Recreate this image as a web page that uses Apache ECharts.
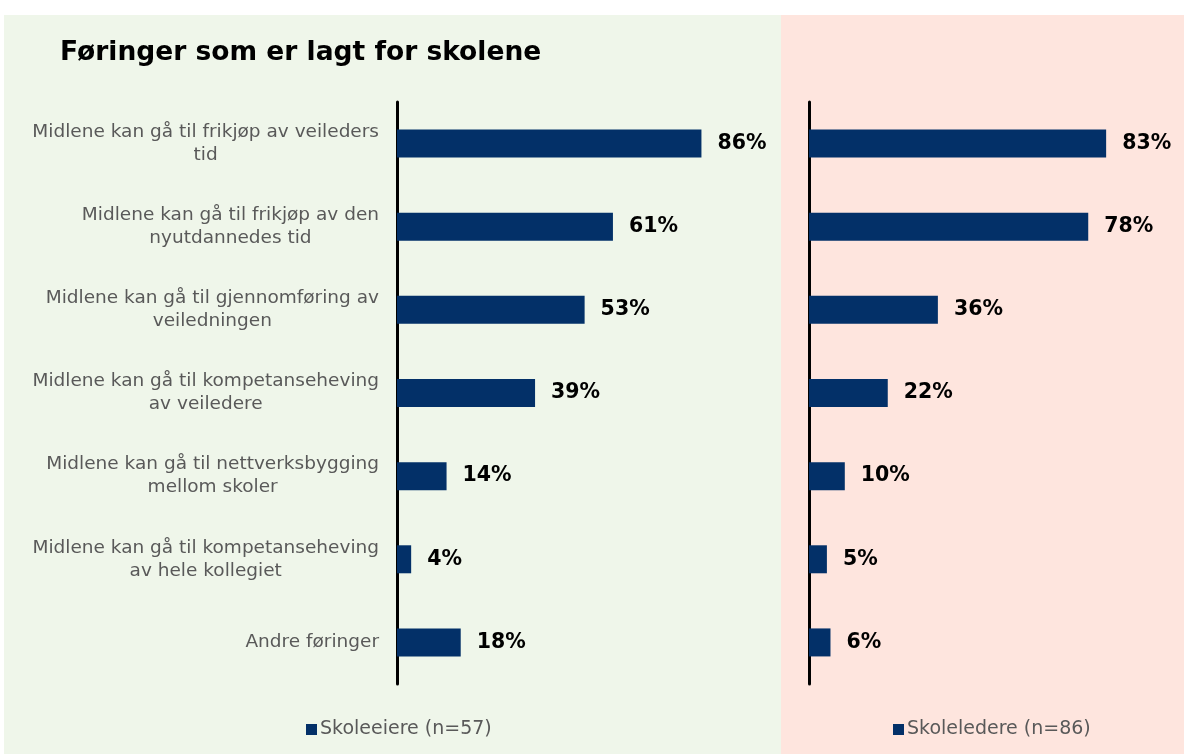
<!DOCTYPE html>
<html><head><meta charset="utf-8">
<script src="https://cdn.jsdelivr.net/npm/echarts@6/dist/echarts.min.js"></script>
<style>html,body{margin:0;padding:0;background:#fff}#c{width:1184px;height:754px}</style>
</head><body><div id="c"></div>
<script>
const categories = [
  "Midlene kan gå til frikjøp av veileders\ntid",
  "Midlene kan gå til frikjøp av den\nnyutdannedes tid",
  "Midlene kan gå til gjennomføring av\nveiledningen",
  "Midlene kan gå til kompetanseheving\nav veiledere",
  "Midlene kan gå til nettverksbygging\nmellom skoler",
  "Midlene kan gå til kompetanseheving\nav hele kollegiet",
  "Andre føringer"
];
const skoleeiere = [86, 61, 53, 39, 14, 4, 18];
const skoleledere = [83, 78, 36, 22, 10, 5, 6];
const seriesNames = ["Skoleeiere (n=57)", "Skoleledere (n=86)"];
const titleText = "Føringer som er lagt for skolene";

const FONT = "DejaVu Sans, Verdana, sans-serif";
const BAR = "#033068";
const chart = echarts.init(document.getElementById('c'));

function yAx(gridIndex, showLabels) {
  return {
    type: 'category', gridIndex, data: categories, inverse: true,
    axisLine: {show: true, lineStyle: {color: '#000', width: 3}},
    axisTick: {show: false},
    axisLabel: {
      show: showLabels, margin: 18, color: '#595959', fontFamily: FONT, fontSize: 18.5, lineHeight: 23,
      align: 'right',
      formatter: v => v.split('\n').map(l => '{c|' + l + '}').join('\n'),
      rich: {c: {align: 'center', color: '#595959', fontFamily: FONT, fontSize: 18.5, lineHeight: 23}}
    }
  };
}
function xAx(gridIndex) {
  return {type: 'value', gridIndex, min: 0, max: 100, show: false, splitLine: {show: false}};
}
function ser(name, data, idx) {
  return {
    name, type: 'bar', xAxisIndex: idx, yAxisIndex: idx, data, barWidth: 28,
    itemStyle: {color: BAR},
    label: {show: true, position: 'right', distance: 16, formatter: p => p.value + '%',
      color: '#000', fontWeight: 'bold', fontFamily: FONT, fontSize: 20.5},
    animation: false
  };
}
const legendText = {color: '#595959', fontFamily: FONT, fontSize: 19, padding: [0,0,0,-2]};
chart.setOption({
  animation: false,
  backgroundColor: '#fff',
  graphic: [
    {type: 'rect', shape: {x: 4, y: 15, width: 777, height: 739}, style: {fill: '#EFF6EA'}, z: -10},
    {type: 'rect', shape: {x: 781, y: 15, width: 403, height: 739}, style: {fill: '#FEE5DE'}, z: -10},
    {type: 'text', left: 60, top: 40, style: {text: titleText, font: 'bold 26.5px ' + FONT, fill: '#000'}}
  ],
  grid: [
    {left: 397, top: 102, width: 354, height: 582},
    {left: 809, top: 102, width: 358, height: 582}
  ],
  xAxis: [xAx(0), xAx(1)],
  yAxis: [yAx(0, true), yAx(1, false)],
  legend: [
    {data: [seriesNames[0]], left: 306, top: 720, padding: 0, icon: 'rect', itemWidth: 11, itemHeight: 11, textStyle: legendText},
    {data: [seriesNames[1]], left: 893, top: 720, padding: 0, icon: 'rect', itemWidth: 11, itemHeight: 11, textStyle: legendText}
  ],
  series: [ser(seriesNames[0], skoleeiere, 0), ser(seriesNames[1], skoleledere, 1)]
});
</script></body></html>
